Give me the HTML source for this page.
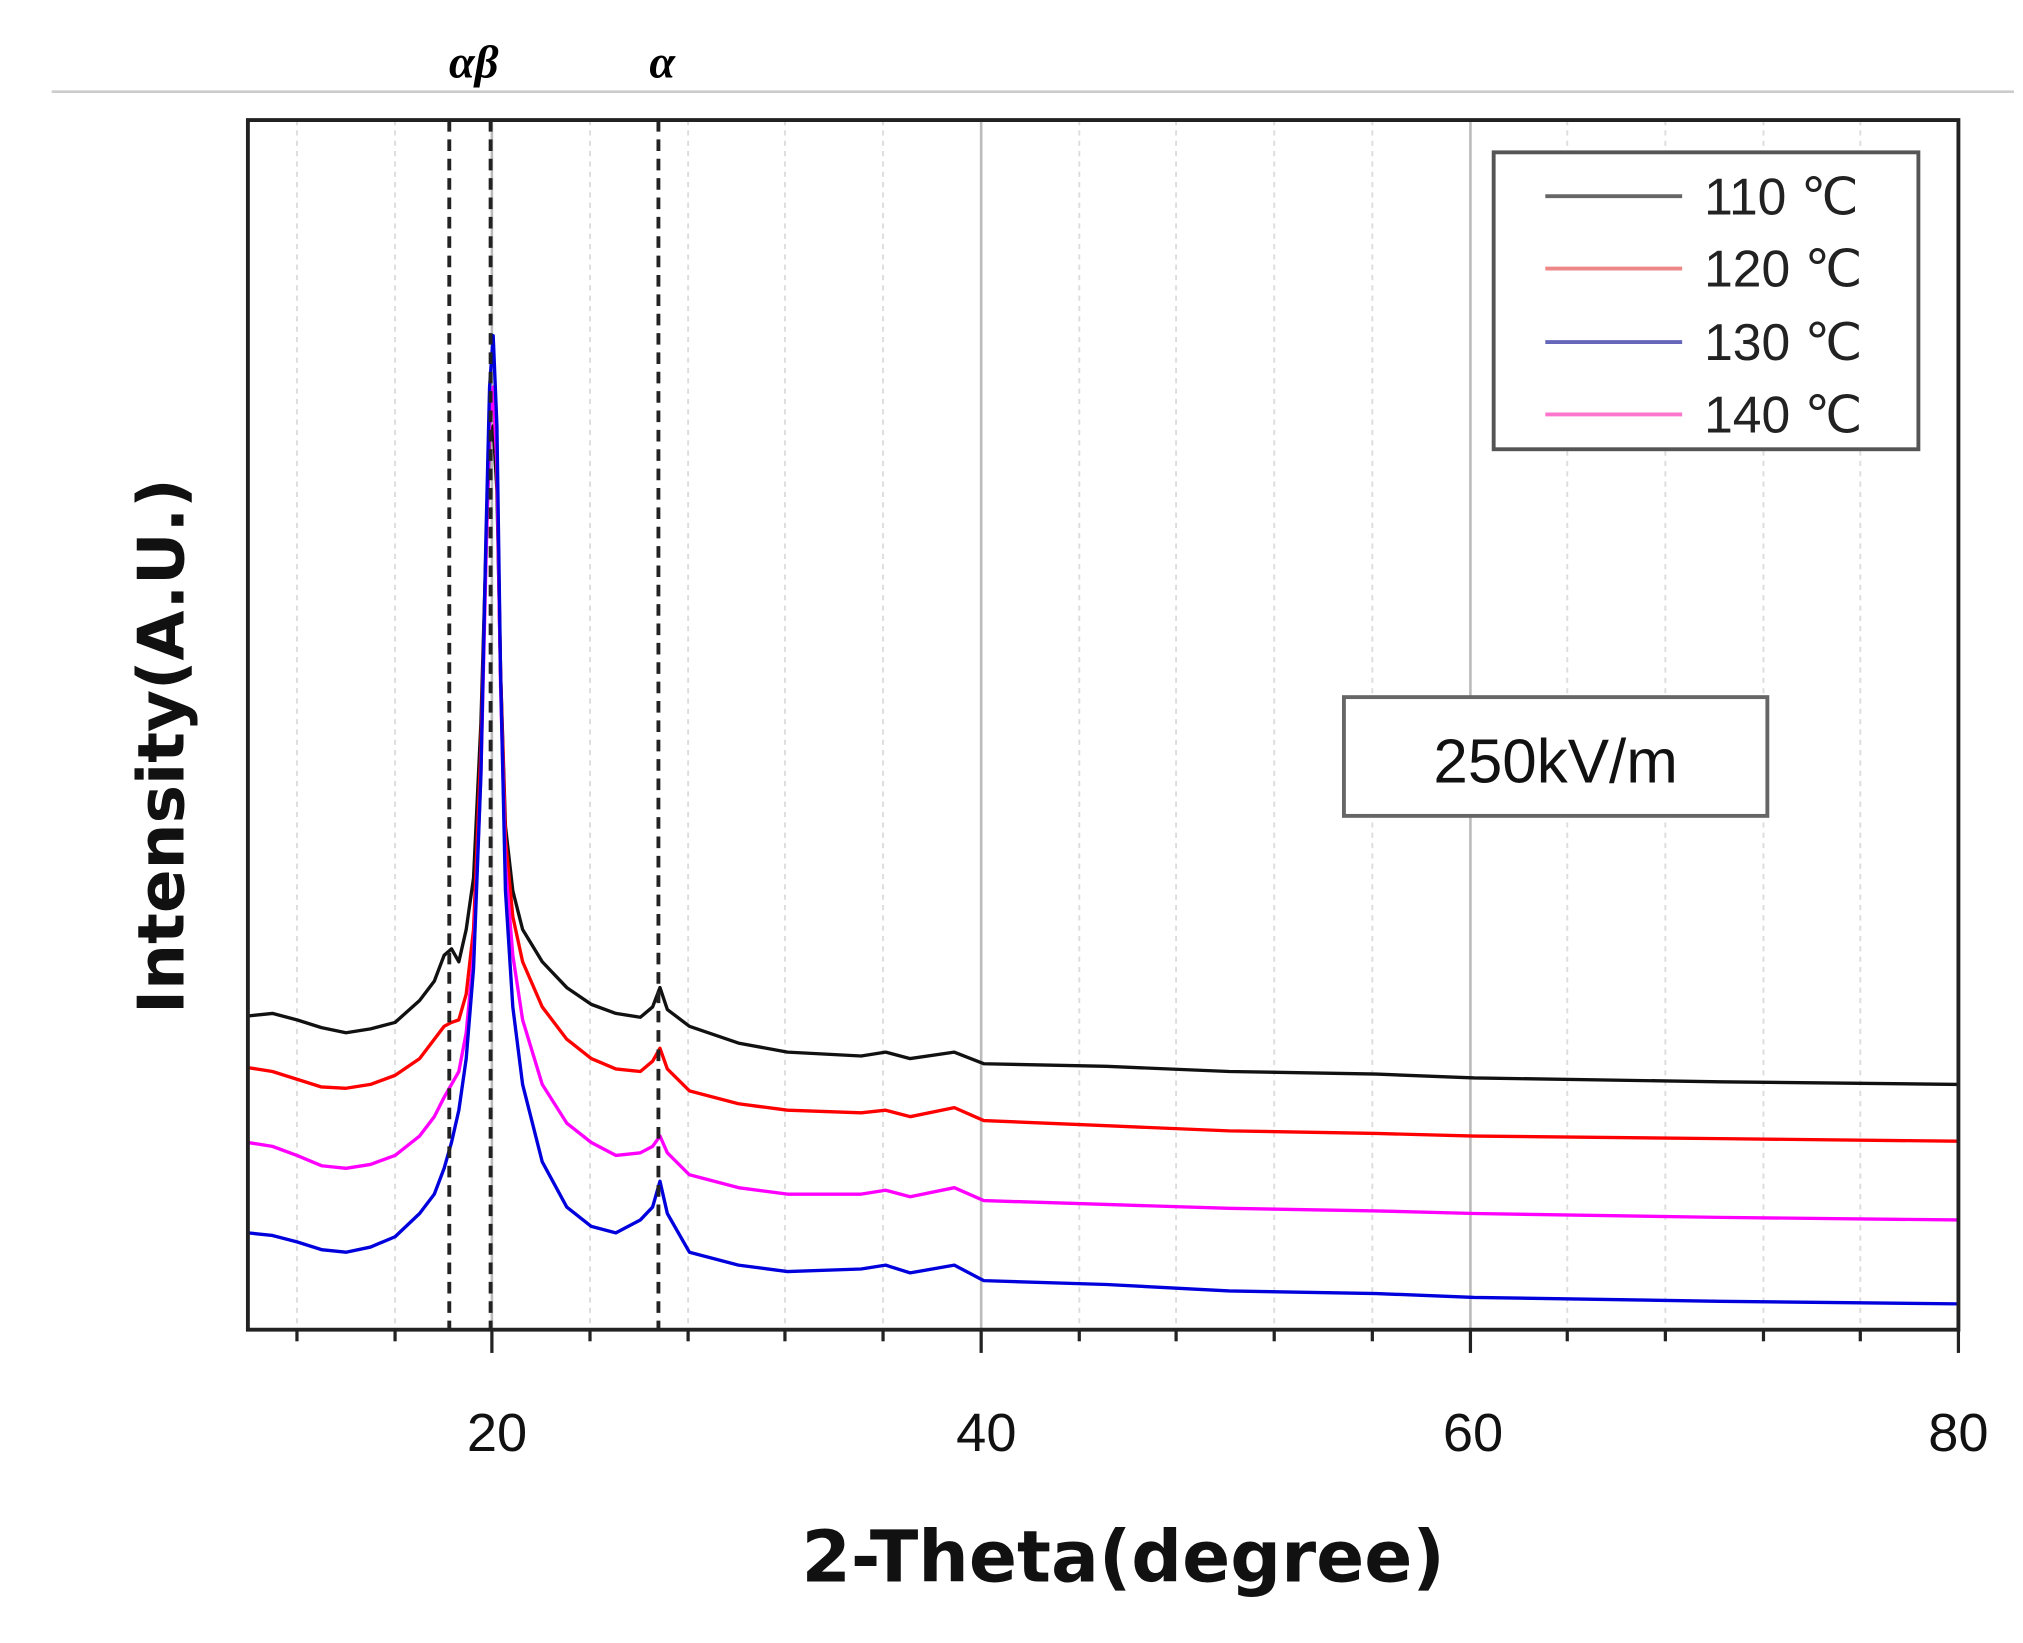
<!DOCTYPE html>
<html><head><meta charset="utf-8">
<style>html,body{margin:0;padding:0;background:#fff;}svg{display:block;}</style>
</head><body>
<svg xmlns="http://www.w3.org/2000/svg" width="2023" height="1643" viewBox="0 0 1567 1272.7">
<rect width="1567" height="1273" fill="#fff"/>
<line x1="40" y1="71" x2="1560" y2="71" stroke="#ccc" stroke-width="2"/>
<text x="367" y="60" font-family="Liberation Serif, serif" font-style="italic" font-weight="bold" font-size="36" text-anchor="middle">αβ</text>
<text x="513" y="60" font-family="Liberation Serif, serif" font-style="italic" font-weight="bold" font-size="36" text-anchor="middle">α</text>
<g stroke="#ddd" stroke-width="1.5" stroke-dasharray="4,4">
<line x1="230" y1="93" x2="230" y2="1030"/><line x1="306" y1="93" x2="306" y2="1030"/><line x1="457" y1="93" x2="457" y2="1030"/><line x1="533" y1="93" x2="533" y2="1030"/><line x1="608" y1="93" x2="608" y2="1030"/><line x1="684" y1="93" x2="684" y2="1030"/><line x1="836" y1="93" x2="836" y2="1030"/><line x1="911" y1="93" x2="911" y2="1030"/><line x1="987" y1="93" x2="987" y2="1030"/><line x1="1063" y1="93" x2="1063" y2="1030"/><line x1="1214" y1="93" x2="1214" y2="1030"/><line x1="1290" y1="93" x2="1290" y2="1030"/><line x1="1366" y1="93" x2="1366" y2="1030"/><line x1="1441" y1="93" x2="1441" y2="1030"/>
</g>
<g stroke="#bbb" stroke-width="2">
<line x1="381" y1="93" x2="381" y2="1030"/><line x1="760" y1="93" x2="760" y2="1030"/><line x1="1139" y1="93" x2="1139" y2="1030"/>
</g>
<g fill="none" stroke-width="2.6" stroke-linejoin="round">
<polyline stroke="#111" points="192,787 211,785 230,790 249,796 268,800 287,797 306,792 325,775 336.4,760 344,740 349.7,735 355.4,745 361.1,720 366.8,680 372.5,560 376.3,430 379.2,340 382,330 384.9,380 387.7,520 391.5,640 397.2,690 404.8,720 420,745 439,765 458,778 477,785 496,788 505.5,780 511.2,765 516.9,782 534,795 572,808 610,815 667,818 686,815 705,820 739.2,815 762,824 857,826 952,830 1066,832 1142,835 1332,838 1517,840"/>
<polyline stroke="#f00" points="192,827 211,830 230,836 249,842 268,843 287,840 306,833 325,820 336.4,805 344,795 349.7,792 355.4,790 361.1,770 366.8,720 372.5,580 376.3,430 379.2,320 382,300 384.9,360 387.7,520 391.5,650 397.2,710 404.8,745 420,780 439,805 458,820 477,828 496,830 505.5,822 511.2,812 516.9,828 534,845 572,855 610,860 667,862 686,860 705,865 739.2,858 762,868 857,872 952,876 1066,878 1142,880 1332,882 1517,884"/>
<polyline stroke="#f0f" points="192,885 211,888 230,895 249,903 268,905 287,902 306,895 325,880 336.4,865 344,850 349.7,840 355.4,830 361.1,800 366.8,740 372.5,600 376.3,440 379.2,330 382,300 384.9,360 387.7,530 391.5,670 397.2,740 404.8,790 420,840 439,870 458,885 477,895 496,893 505.5,888 511.2,880 516.9,893 534,910 572,920 610,925 667,925 686,922 705,927 739.2,920 762,930 857,933 952,936 1066,938 1142,940 1332,943 1517,945"/>
<polyline stroke="#00d" points="192,955 211,957 230,962 249,968 268,970 287,966 306,958 325,940 336.4,925 344,905 349.7,885 355.4,860 361.1,820 366.8,750 372.5,600 376.3,420 379.2,300 382,260 384.9,330 387.7,520 391.5,690 397.2,780 404.8,840 420,900 439,935 458,950 477,955 496,945 505.5,935 511.2,915 516.9,940 534,970 572,980 610,985 667,983 686,980 705,986 739.2,980 762,992 857,995 952,1000 1066,1002 1142,1005 1332,1008 1517,1010"/>
</g>
<g stroke="#222" stroke-width="3" stroke-dasharray="9,6">
<line x1="348" y1="93" x2="348" y2="1030"/>
<line x1="380" y1="93" x2="380" y2="1030"/>
<line x1="510" y1="93" x2="510" y2="1030"/>
</g>
<rect x="192" y="93" width="1325" height="937" fill="none" stroke="#222" stroke-width="3"/>
<g stroke="#222" stroke-width="2.5">
<line x1="230" y1="1030" x2="230" y2="1039"/><line x1="306" y1="1030" x2="306" y2="1039"/><line x1="457" y1="1030" x2="457" y2="1039"/><line x1="533" y1="1030" x2="533" y2="1039"/><line x1="608" y1="1030" x2="608" y2="1039"/><line x1="684" y1="1030" x2="684" y2="1039"/><line x1="836" y1="1030" x2="836" y2="1039"/><line x1="911" y1="1030" x2="911" y2="1039"/><line x1="987" y1="1030" x2="987" y2="1039"/><line x1="1063" y1="1030" x2="1063" y2="1039"/><line x1="1214" y1="1030" x2="1214" y2="1039"/><line x1="1290" y1="1030" x2="1290" y2="1039"/><line x1="1366" y1="1030" x2="1366" y2="1039"/><line x1="1441" y1="1030" x2="1441" y2="1039"/>
<line x1="381" y1="1030" x2="381" y2="1048"/><line x1="760" y1="1030" x2="760" y2="1048"/><line x1="1139" y1="1030" x2="1139" y2="1048"/><line x1="1517" y1="1030" x2="1517" y2="1048"/>
</g>
<g font-family="Liberation Sans, sans-serif" font-size="42" text-anchor="middle" fill="#111">
<text x="385" y="1124">20</text><text x="764" y="1124">40</text><text x="1141" y="1124">60</text><text x="1517" y="1124">80</text>
</g>
<text x="870" y="1225" font-family="DejaVu Sans, sans-serif" font-weight="bold" font-size="55" text-anchor="middle" fill="#111">2-Theta(degree)</text>
<text transform="translate(142,578) rotate(-90)" font-family="DejaVu Sans, sans-serif" font-weight="bold" font-size="50" text-anchor="middle" fill="#111">Intensity(A.U.)</text>
<rect x="1157" y="118" width="329" height="230" fill="#fff" stroke="#555" stroke-width="3"/>
<g stroke-width="3">
<line x1="1197" y1="152" x2="1303" y2="152" stroke="#666"/>
<line x1="1197" y1="208" x2="1303" y2="208" stroke="#e88"/>
<line x1="1197" y1="265" x2="1303" y2="265" stroke="#66b"/>
<line x1="1197" y1="321" x2="1303" y2="321" stroke="#f7c"/>
</g>
<g font-family="Liberation Sans, sans-serif" font-size="40" fill="#222">
<text x="1320" y="166">110  ℃</text><text x="1320" y="222">120  ℃</text><text x="1320" y="279">130  ℃</text><text x="1320" y="335">140  ℃</text>
</g>
<rect x="1041" y="540" width="328" height="92" fill="#fff" stroke="#666" stroke-width="3"/>
<text x="1205" y="606" font-family="Liberation Sans, sans-serif" font-size="48" text-anchor="middle" fill="#111">250kV/m</text>
</svg>
</body></html>
